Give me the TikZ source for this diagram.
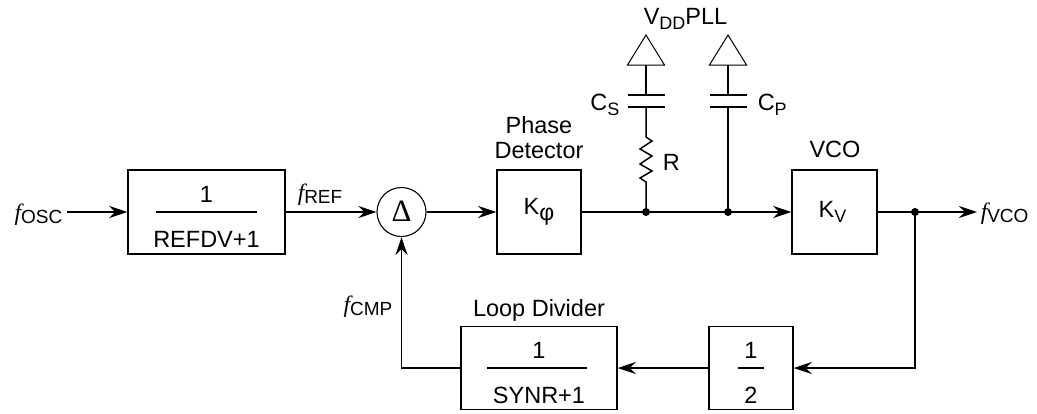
\documentclass[tikz,border=0pt]{standalone}
\usepackage{fontspec}
\setmainfont{Liberation Sans}
\newfontfamily\tnr{Liberation Serif}
\usetikzlibrary{arrows.meta}
\newcommand\fsub[1]{\raisebox{-3pt}{\fontsize{19}{22}\selectfont #1}}
\newcommand\ssub[1]{\raisebox{-5pt}{\fontsize{18}{20}\selectfont #1}}
\newcommand\fit{{\tnr\itshape f}}
\begin{document}
\begin{tikzpicture}[x=1pt,y=-1pt,line width=1.5pt,
  >={Stealth[length=18pt,width=12pt,inset=6pt]},
  font=\fontsize{23.5}{28}\selectfont,
  blk/.style={draw,inner sep=0,minimum height=84pt},
  lbl/.style={inner sep=0},
  dotn/.style={circle,fill,inner sep=0,minimum size=8pt},
  tri/.style={line width=1pt,line join=miter}]
\useasboundingbox (0,0) rectangle (1037,413);

% blocks
\node[blk,minimum width=157pt] (b1) at (206.5,212) {};
\node[blk,minimum width=84pt] (pd) at (539,212) {};
\node[blk,minimum width=85pt] (vco) at (834.5,212) {};
\node[blk,minimum width=84pt,minimum height=83pt] (half) at (751,368) {};
\node[blk,minimum width=156pt,minimum height=83pt] (ld) at (539,368) {};
\node[draw,circle,line width=1.1pt,minimum size=49pt,inner sep=0] (sum) at (401.5,212) {};
\node[lbl,font=\fontsize{31}{33}\selectfont\tnr] at ([yshift=1pt]sum.center) {Δ};

% block contents
\node[lbl] (b1n) at ([yshift=18pt]b1.center) {1};
\node[lbl] (b1d) at ([yshift=-27.5pt]b1.center) {REFDV+1};
\draw ([xshift=-51pt]b1.center) -- ([xshift=50pt]b1.center);
\node[lbl] (pdk) at (pd.center) {K\raisebox{-6pt}{\fontsize{23}{24}\selectfont φ}};
\node[lbl] (vcok) at ([xshift=-2pt]vco.center) {K\ssub{V}};
\node[lbl] (hn) at ([yshift=18pt]half.center) {1};
\node[lbl] (hd) at ([yshift=-27.5pt]half.center) {2};
\draw ([xshift=-13pt]half.center) -- ([xshift=13pt]half.center);
\node[lbl] (ldn) at ([yshift=18pt]ld.center) {1};
\node[lbl] (ldd) at ([yshift=-27.5pt]ld.center) {SYNR+1};
\draw ([xshift=-52pt]ld.center) -- ([xshift=48pt]ld.center);

% labels
\node[lbl,anchor=base east] (fosc) at (63,220) {\fit\fsub{OSC}};
\node[lbl,anchor=base west] (fref) at (297,200) {\fit\fsub{REF}};
\node[lbl,anchor=base east] (fcmp) at (393,312) {\fit\fsub{CMP}};
\node[lbl,anchor=base west] (fvco) at (980,219) {\fit\fsub{VCO}};
\node[lbl,anchor=base] (ph1) at (539,133) {Phase};
\node[lbl,anchor=base] (ph2) at (539,158) {Detector};
\node[lbl,anchor=base] (vcol) at (835,157) {VCO};
\node[lbl,anchor=base] (ldl) at (539,316) {Loop Divider};
\node[lbl,anchor=base west] (vdd) at (643,24) {V\ssub{DD}PLL};
\node[lbl,anchor=base east] (cs) at (620,110) {C\ssub{S}};
\node[lbl,anchor=base west] (cp) at (757,110) {C\ssub{P}};
\node[lbl,anchor=base west] (rl) at (662,170) {R};

% junctions
\node[dotn] (d1) at (646,212) {};
\node[dotn] (d2) at (728,212) {};
\node[dotn] (d3) at (915,212) {};
\coordinate (in) at (67,212);
\coordinate (corner1) at (915,368);
\coordinate (corner2) at (401.5,368);

% main path
\draw[->] (in) -- (b1.west);
\draw[->] (b1.east) -- (sum.west);
\draw[->] (sum.east) -- (pd.west);
\draw (pd.east) -- (d1.center) -- (d2.center);
\draw[->] (d2.center) -- (vco.west);
\draw (vco.east) -- (d3.center);
\draw[->] (d3.center) -- (977,212) coordinate (out);
\draw[->] (d3.center) -- (corner1) -- (half.east);
\draw[->] (half.west) -- (ld.east);
\draw[->] (ld.west) -- (corner2) -- (sum.south);

% RC branch
\coordinate (r1) at (646,182);
\coordinate (r2) at (646,137);
\coordinate (cs1) at (646,107);
\coordinate (cs2) at (646,95);
\coordinate (t1) at (646,65);
\draw (d1.center) -- (r1) -- (640,178) -- (652,171) -- (640,164) -- (652,156) -- (640,149) -- (652,141) -- (r2) -- (cs1);
\draw ([xshift=-18.5pt]cs1) -- ([xshift=18.5pt]cs1);
\draw ([xshift=-18.5pt]cs2) -- ([xshift=18.5pt]cs2);
\draw (cs2) -- (t1);
\draw[tri] ([xshift=-18.5pt]t1) -- ([xshift=18.5pt]t1) -- (646,35) -- cycle;

% CP branch
\coordinate (cp1) at (728,107);
\coordinate (cp2) at (728,95);
\coordinate (t2) at (728,65);
\draw (d2.center) -- (cp1);
\draw ([xshift=-18.5pt]cp1) -- ([xshift=18.5pt]cp1);
\draw ([xshift=-18.5pt]cp2) -- ([xshift=18.5pt]cp2);
\draw (cp2) -- (t2);
\draw[tri] ([xshift=-18.5pt]t2) -- ([xshift=18.5pt]t2) -- (728,35) -- cycle;
\end{tikzpicture}
\end{document}
